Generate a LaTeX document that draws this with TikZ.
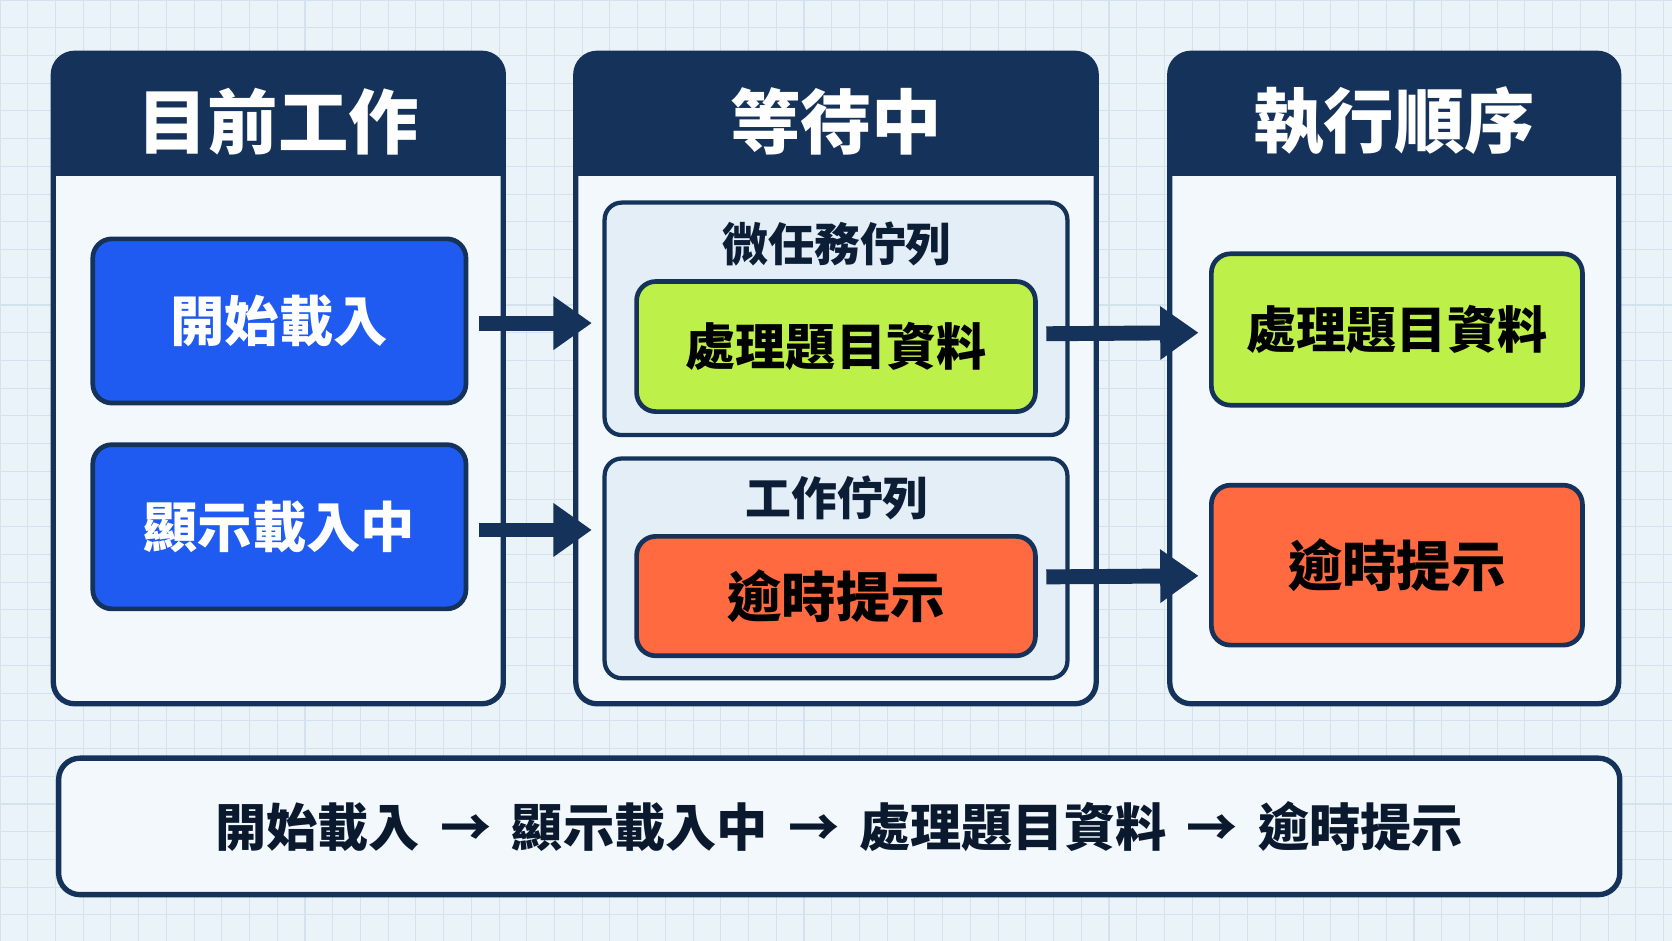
\documentclass[tikz,border=0pt]{standalone}
\usepackage{fontspec}
\setmainfont{Noto Sans CJK TC}
\usetikzlibrary{arrows.meta}
\definecolor{navy}{HTML}{14325A}
\definecolor{bblue}{HTML}{1F5BF0}
\definecolor{bgreen}{HTML}{BEF04A}
\definecolor{borange}{HTML}{FF6A40}
\definecolor{panel}{HTML}{F3F8FC}
\definecolor{bg}{HTML}{EAF3F8}
\definecolor{gridc}{HTML}{D3E2EC}
\definecolor{qfill}{HTML}{E4EEF7}
\begin{document}
\begin{tikzpicture}[x=0.5pt,y=-0.5pt,
  box/.style={draw=navy,line width=2pt,rounded corners=8pt},
  item/.style={box,line width=2.2pt,rounded corners=9pt},
  lab/.style={font=\bfseries\fontsize{23.5}{26}\selectfont},
  blab/.style={font=\bfseries\fontsize{25.5}{28}\selectfont},
  arr/.style={draw=navy,line width=7pt,-{Triangle[length=18pt,width=24pt]}}]
\fill[bg] (0,0) rectangle (1568,882);
\useasboundingbox (0,0) rectangle (1568,882);
\foreach \i in {0,26,...,1568} \draw[gridc,line width=0.5pt] (\i,0)--(\i,882);
\foreach \i in {0,26,...,882} \draw[gridc,line width=0.5pt] (0,\i)--(1568,\i);
% panels
\foreach \x/\w/\t [count=\k] in {50/422/目前工作,540/488/等待中,1097/421/執行順序}{
  \fill[panel,rounded corners=10pt] (\x,50) rectangle ++(\w,610);
  \fill[navy,rounded corners=10pt] (\x,50) rectangle ++(\w,60);
  \fill[navy] (\x,90) rectangle ++(\w,75);
  \draw[box,line width=2.5pt,rounded corners=10pt] (\x,50) rectangle ++(\w,610);
  \node[text=white,font=\bfseries\fontsize{33}{36}\selectfont] (h\k) at (\x+\w/2,114) {\t};
}
% left boxes
\node[item,fill=bblue,minimum width=175pt,minimum height=77pt,text=white,blab] (a1) at (262,301) {開始載入};
\node[item,fill=bblue,minimum width=175pt,minimum height=77pt,text=white,blab] (a2) at (262,494) {顯示載入中};
% queues
\node[box,fill=qfill,minimum width=217pt,minimum height=109pt] (q1) at (784,299) {};
\node[box,fill=qfill,minimum width=217pt,minimum height=103pt] (q2) at (784,533) {};
\node[font=\bfseries\fontsize{21.5}{23}\selectfont,text=navy!60!black] (ql1) at (785,229) {微任務佇列};
\node[font=\bfseries\fontsize{21.5}{23}\selectfont,text=navy!60!black] (ql2) at (785,467) {工作佇列};
\node[item,fill=bgreen,minimum width=187pt,minimum height=61pt,lab] (g1) at (784,325) {處理題目資料};
\node[item,fill=borange,minimum width=187pt,minimum height=56pt,blab] (o1) at (784,559) {逾時提示};
% right
\node[item,fill=bgreen,minimum width=174pt,minimum height=71pt,lab] (g2) at (1310,309) {處理題目資料};
\node[item,fill=borange,minimum width=174pt,minimum height=75pt,blab] (o2) at (1310,530) {逾時提示};
% arrows
\draw[arr] (a1.east)++(10,2) -- (555,303);
\draw[arr] (a2.east)++(10,3) -- (555,497);
\draw[arr] (g1.east)++(8,-12) -- (1124,312);
\draw[arr] (o1.east)++(8,-18) -- (1124,540);
% bottom
\node[box,fill=panel,line width=2.5pt,rounded corners=10pt,minimum width=732pt,minimum height=64pt,
  font=\bfseries\fontsize{24}{26}\selectfont,text=navy!50!black] (bt) at (787,775)
  {開始載入\ \,→\ \,顯示載入中\ \,→\ \,處理題目資料\ \,→\ \,逾時提示};
\end{tikzpicture}
\end{document}
